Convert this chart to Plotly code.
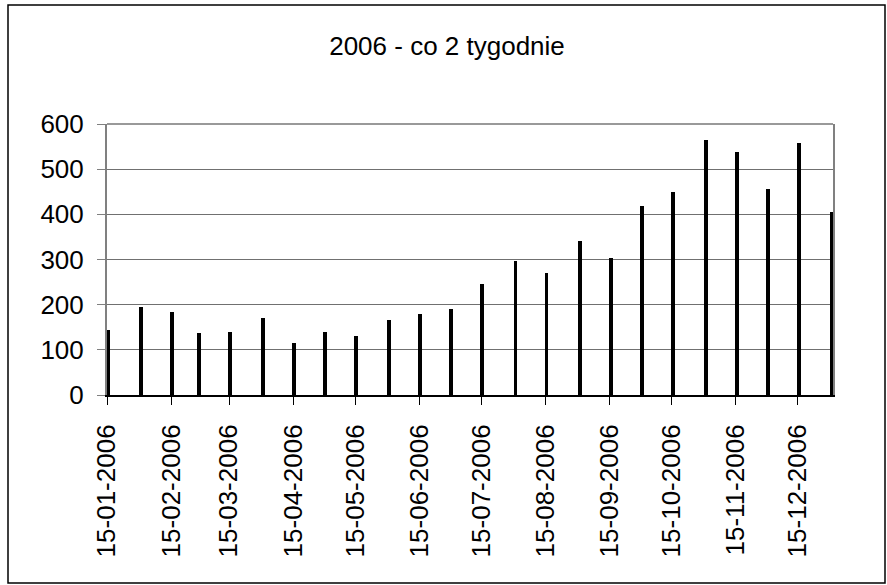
import plotly.graph_objects as go

dates = [
    "2006-01-15", "2006-01-31", "2006-02-15", "2006-02-28", "2006-03-15", "2006-03-31",
    "2006-04-15", "2006-04-30", "2006-05-15", "2006-05-31", "2006-06-15", "2006-06-30",
    "2006-07-15", "2006-07-31", "2006-08-15", "2006-08-31", "2006-09-15", "2006-09-30",
    "2006-10-15", "2006-10-31", "2006-11-15", "2006-11-30", "2006-12-15", "2006-12-31",
]
values = [143, 195, 184, 137, 139, 171, 115, 140, 130, 166, 179, 191,
          245, 297, 270, 341, 304, 418, 450, 565, 539, 457, 558, 405]
title_text = "2006 - co 2 tygodnie"

FONT = "Liberation Sans, Arial, sans-serif"
FS = 26
DAY_MS = 86400000

fig = go.Figure()
fig.add_trace(go.Bar(
    x=dates, y=values,
    xperiod=DAY_MS, xperiodalignment="middle",
    width=1.9 * DAY_MS,
    marker=dict(color="black", line=dict(width=0)),
    showlegend=False,
))

fig.update_layout(
    width=887, height=585,
    margin=dict(l=107, r=54, t=124, b=190),
    paper_bgcolor="white", plot_bgcolor="white",
    font=dict(family=FONT, size=FS, color="black"),
    title=dict(text=title_text, x=447 / 887, xref="container", xanchor="center",
               y=1 - 46 / 585, yref="container", yanchor="middle",
               font=dict(family=FONT, size=FS, color="black")),
    bargap=0,
)

fig.update_xaxes(
    type="date",
    range=["2006-01-15", "2007-01-01"],
    tick0="2006-01-15", dtick="M1",
    tickformat="%d-%m-%Y", tickangle=-90,
    ticks="outside", ticklen=8, tickwidth=1, tickcolor="black",
    ticklabelstandoff=9,
    showline=True, linecolor="black", linewidth=2,
    showgrid=False, zeroline=False,
    tickfont=dict(family=FONT, size=FS, color="black"),
)
fig.update_yaxes(
    range=[0, 600], dtick=100,
    ticks="outside", ticklen=8, tickwidth=1, tickcolor="#808080",
    ticklabelstandoff=8,
    showline=True, linecolor="#808080", linewidth=2, mirror=True,
    showgrid=True, gridcolor="#707070", gridwidth=1,
    zeroline=False,
    tickfont=dict(family=FONT, size=FS, color="black"),
)

# top border of plot area
fig.add_shape(type="line", xref="paper", yref="paper", x0=0, x1=1, y0=1, y1=1,
              line=dict(color="#999999", width=2))
# outer chart border
fig.add_shape(type="rect", xref="paper", yref="paper",
              x0=(8 - 107) / 726, x1=(885 - 107) / 726,
              y0=(395 - 583) / 271, y1=(395 - 5) / 271,
              line=dict(color="black", width=1.5), layer="above")

fig.write_html("out.html",
               config={"displayModeBar": False},
               post_script="document.body.style.margin='0';document.body.style.overflow='hidden';")
